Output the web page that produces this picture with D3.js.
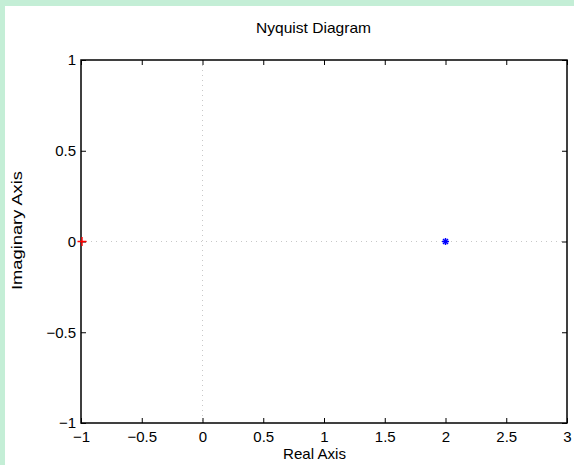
<!DOCTYPE html>
<html>
<head>
<meta charset="utf-8">
<script src="https://cdn.jsdelivr.net/npm/d3@7"></script>
<style>
  html, body { margin: 0; padding: 0; background: #ffffff; }
  svg { display: block; }
  text { font-family: "Liberation Sans", Arial, Helvetica, sans-serif; fill: #000; }
</style>
</head>
<body>
<svg id="chart" width="574" height="465"></svg>
<script>
// Nyquist response: a single point at 2 + 0j, plus the critical point -1 + 0j
const responseRe = [2];
const responseIm = [0];
const criticalRe = [-1];
const criticalIm = [0];

const xTicks = [-1, -0.5, 0, 0.5, 1, 1.5, 2, 2.5, 3];
const yTicks = [-1, -0.5, 0, 0.5, 1];
const xDomain = [-1, 3];
const yDomain = [-1, 1];

const titleText = "Nyquist Diagram";
const xLabelText = "Real Axis";
const yLabelText = "Imaginary Axis";

const W = 574, H = 465;
const plot = { left: 81, right: 567, top: 60, bottom: 423 };

const svg = d3.select("#chart");

// light green frame on the top and left edges
svg.append("rect").attr("x", 0).attr("y", 0).attr("width", W).attr("height", H).attr("fill", "#c4eed6");
svg.append("rect").attr("x", 5).attr("y", 6).attr("width", W - 5).attr("height", H - 6).attr("fill", "#ffffff");

const x = d3.scaleLinear().domain(xDomain).range([plot.left, plot.right]);
const y = d3.scaleLinear().domain(yDomain).range([plot.bottom, plot.top]);

const fmt = v => (v < 0 ? "\u2212" : "") + String(Math.abs(v));
const fontSize = 15;
const tickLen = 5;

// dotted zero grid lines
svg.append("line")
  .attr("x1", x(0)).attr("x2", x(0)).attr("y1", plot.top).attr("y2", plot.bottom)
  .attr("stroke", "#c8c8c8").attr("stroke-width", 1).attr("stroke-dasharray", "1,4");
svg.append("line")
  .attr("x1", plot.left).attr("x2", plot.right).attr("y1", y(0)).attr("y2", y(0))
  .attr("stroke", "#c8c8c8").attr("stroke-width", 1).attr("stroke-dasharray", "1,4");

// axes with inward ticks on all four sides
const axisStyle = g => {
  g.select(".domain").remove();
  g.selectAll(".tick line").attr("stroke", "#000").attr("stroke-width", 1);
  g.selectAll(".tick text")
    .style("font-size", fontSize + "px")
    .style("font-family", "'Liberation Sans', Arial, sans-serif");
};

svg.append("g")
  .attr("transform", `translate(0,${plot.bottom})`)
  .call(d3.axisBottom(x).tickValues(xTicks).tickFormat(fmt).tickSizeInner(-tickLen).tickSizeOuter(0).tickPadding(8))
  .call(axisStyle);
svg.append("g")
  .attr("transform", `translate(0,${plot.top})`)
  .call(d3.axisTop(x).tickValues(xTicks).tickFormat("").tickSizeInner(-tickLen).tickSizeOuter(0))
  .call(axisStyle);
svg.append("g")
  .attr("transform", `translate(${plot.left},0)`)
  .call(d3.axisLeft(y).tickValues(yTicks).tickFormat(fmt).tickSizeInner(-tickLen).tickSizeOuter(0).tickPadding(5))
  .call(axisStyle);
svg.append("g")
  .attr("transform", `translate(${plot.right},0)`)
  .call(d3.axisRight(y).tickValues(yTicks).tickFormat("").tickSizeInner(-tickLen).tickSizeOuter(0))
  .call(axisStyle);

// axes box
svg.append("rect")
  .attr("x", plot.left).attr("y", plot.top)
  .attr("width", plot.right - plot.left).attr("height", plot.bottom - plot.top)
  .attr("fill", "none").attr("stroke", "#000").attr("stroke-width", 1.5);

// critical point marker (+)
criticalRe.forEach((re, i) => {
  const cx = x(re) + 1, cy = y(criticalIm[i]);
  svg.append("path")
    .attr("d", `M${cx - 4.5},${cy}H${cx + 4.5}M${cx},${cy - 4.5}V${cy + 4.5}`)
    .attr("stroke", "#ff0000").attr("stroke-width", 1.4).attr("fill", "none");
});

// response point drawn as an asterisk
responseRe.forEach((re, i) => {
  const cx = x(re), cy = y(responseIm[i]);
  const r = 3.5;
  const g = svg.append("g").attr("transform", `translate(${cx},${cy})`);
  [0, 45, 90, 135].forEach(a => {
    g.append("line")
      .attr("x1", -r).attr("x2", r).attr("y1", 0).attr("y2", 0)
      .attr("transform", `rotate(${a})`)
      .attr("stroke", "#0000ff").attr("stroke-width", 1.5);
  });
});

// title and axis labels
svg.append("text").attr("x", 313.5).attr("y", 33).attr("text-anchor", "middle")
  .style("font-size", "15px").attr("textLength", 115).attr("lengthAdjust", "spacingAndGlyphs").text(titleText);
svg.append("text").attr("x", 314.5).attr("y", 459).attr("text-anchor", "middle")
  .style("font-size", "14.5px").attr("textLength", 63).attr("lengthAdjust", "spacingAndGlyphs").text(xLabelText);
svg.append("text").attr("transform", `translate(22,230.5) rotate(-90)`).attr("text-anchor", "middle")
  .style("font-size", "15px").attr("textLength", 119).attr("lengthAdjust", "spacingAndGlyphs").text(yLabelText);
</script>
</body>
</html>
